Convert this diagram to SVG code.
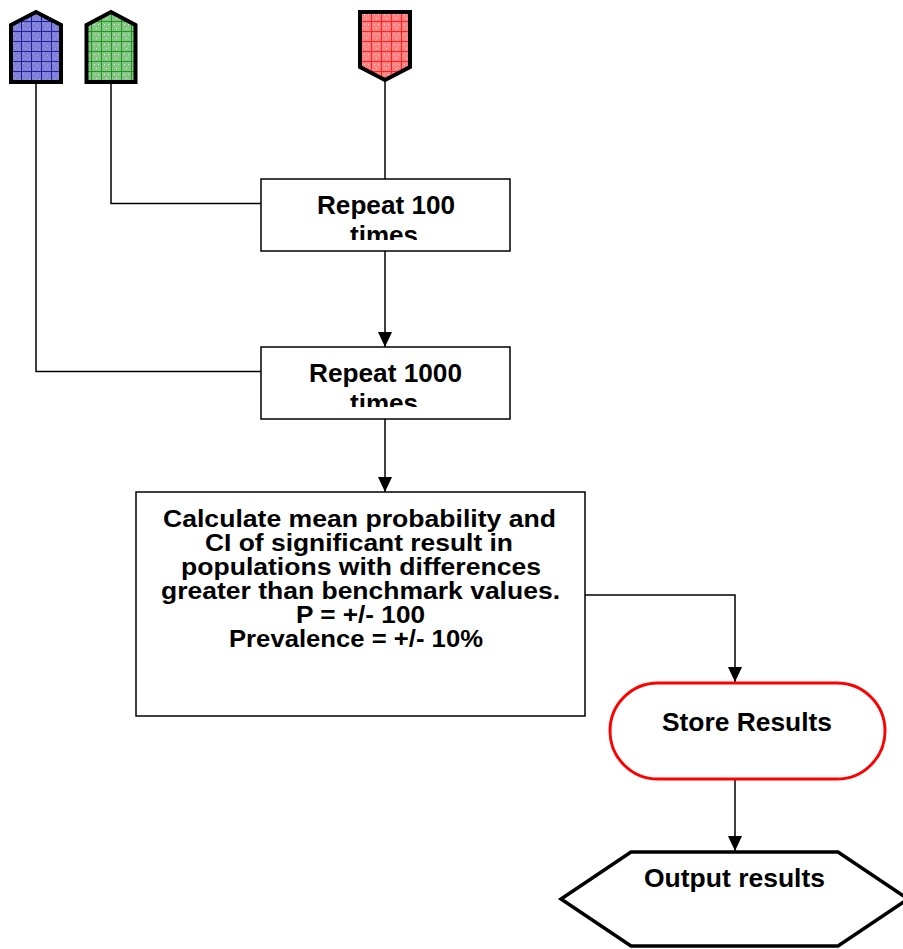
<svg xmlns="http://www.w3.org/2000/svg" width="903" height="949" viewBox="0 0 903 949">
  <style>
    .lbl { font-family: "Liberation Sans", Arial, sans-serif; font-weight: bold; fill: #000; }
    .box { fill: #fff; stroke: #000; stroke-width: 1.5; }
    .wire { fill: none; stroke: #000; stroke-width: 1.5; }
    .tag { stroke: #000; stroke-width: 4; stroke-linejoin: miter; }
  </style>
  <defs>
    <marker id="arrow" markerUnits="userSpaceOnUse" markerWidth="15" markerHeight="14" refX="15" refY="7" orient="auto">
      <path d="M0,0 L15,7 L0,14 Z" fill="#000"/>
    </marker>
    <pattern id="gridBlue" patternUnits="userSpaceOnUse" x="1" y="1" width="10" height="10">
      <rect width="10" height="10" fill="#8080d8"/>
      <path d="M2,2h1v1h-1zM6,4h1v1h-1zM4,7h1v1h-1zM8,8h1v1h-1z" fill="#a8a8f0"/>
      <path d="M0.5,0V10M0,0.5H10" stroke="#20209a" stroke-width="1"/>
    </pattern>
    <pattern id="gridGreen" patternUnits="userSpaceOnUse" x="1" y="1" width="10" height="10">
      <rect width="10" height="10" fill="#84c684"/>
      <path d="M3,3h1v1h-1zM7,3h1v1h-1zM5,7h1v1h-1z" fill="#e6f6e6"/>
      <path d="M0.5,0V10M0,0.5H10" stroke="#1f961f" stroke-width="1"/>
    </pattern>
    <pattern id="gridRed" patternUnits="userSpaceOnUse" x="1" y="1" width="10" height="10">
      <rect width="10" height="10" fill="#ff8080"/>
      <path d="M3,3h1v1h-1zM7,3h1v1h-1zM5,7h1v1h-1z" fill="#ffe0e0"/>
      <path d="M0.5,0V10M0,0.5H10" stroke="#ff2020" stroke-width="1"/>
    </pattern>
    <clipPath id="clipRepeat100">
      <rect x="261" y="179" width="249" height="61"/>
    </clipPath>
    <clipPath id="clipRepeat1000">
      <rect x="261" y="347" width="249" height="60"/>
    </clipPath>
  </defs>

  <rect width="903" height="949" fill="#fff"/>

  <!-- connectors -->
  <g id="connectors">
    <path class="wire" d="M385,80 V179"/>
    <path class="wire" d="M385,251 V347" marker-end="url(#arrow)"/>
    <path class="wire" d="M111,84 V203.5 H261"/>
    <path class="wire" d="M36,84 V371.5 H261"/>
    <path class="wire" d="M385,419 V492" marker-end="url(#arrow)"/>
    <path class="wire" d="M585,595 H735 V682" marker-end="url(#arrow)"/>
    <path class="wire" d="M735,780 V851" marker-end="url(#arrow)"/>
  </g>

  <!-- off-page tags -->
  <g id="tagBlue">
    <path class="tag" fill="url(#gridBlue)" d="M11,25 L36,12 L61,25 L61,82 L11,82 Z"/>
  </g>
  <g id="tagGreen">
    <path class="tag" fill="url(#gridGreen)" d="M86.5,25 L111,12 L135.5,25 L135.5,82 L86.5,82 Z"/>
  </g>
  <g id="tagRed">
    <path class="tag" fill="url(#gridRed)" d="M360,12 L410,12 L410,67 L385,80 L360,67 Z"/>
  </g>

  <!-- loop boxes -->
  <g id="repeat100">
    <rect class="box" x="261" y="179" width="249" height="72"/>
    <g clip-path="url(#clipRepeat100)">
      <text class="lbl" font-size="25" x="317" y="213.5" textLength="138" lengthAdjust="spacingAndGlyphs">Repeat 100</text>
      <text class="lbl" font-size="25" x="350" y="244" textLength="68" lengthAdjust="spacingAndGlyphs">times</text>
    </g>
  </g>
  <g id="repeat1000">
    <rect class="box" x="261" y="347" width="249" height="72"/>
    <g clip-path="url(#clipRepeat1000)">
      <text class="lbl" font-size="25" x="309" y="382" textLength="153" lengthAdjust="spacingAndGlyphs">Repeat 1000</text>
      <text class="lbl" font-size="25" x="350" y="412" textLength="68" lengthAdjust="spacingAndGlyphs">times</text>
    </g>
  </g>

  <!-- calculation step -->
  <g id="calculate">
    <rect class="box" x="136" y="492" width="449" height="224"/>
    <g class="lbl" font-size="23">
      <text x="163" y="527" textLength="393" lengthAdjust="spacingAndGlyphs">Calculate mean probability and</text>
      <text x="205" y="551" textLength="308" lengthAdjust="spacingAndGlyphs">CI of significant result in</text>
      <text x="181" y="575" textLength="360" lengthAdjust="spacingAndGlyphs">populations with differences</text>
      <text x="161" y="599" textLength="399" lengthAdjust="spacingAndGlyphs">greater than benchmark values.</text>
      <text x="296" y="623" textLength="129" lengthAdjust="spacingAndGlyphs">P = +/- 100</text>
      <text x="229" y="647" textLength="254" lengthAdjust="spacingAndGlyphs">Prevalence = +/- 10%</text>
    </g>
  </g>

  <!-- storage terminator -->
  <g id="storeResults">
    <rect x="610" y="683" width="275" height="96" rx="48" ry="48" fill="#fff" stroke="#ff0000" stroke-width="3"/>
    <text class="lbl" font-size="25" x="662" y="731" textLength="170" lengthAdjust="spacingAndGlyphs">Store Results</text>
  </g>

  <!-- output display -->
  <g id="outputResults">
    <path d="M631,852 L838,852 L908,899 L838,946 L631,946 L561,899 Z" fill="#fff" stroke="#000" stroke-width="3.5"/>
    <text class="lbl" font-size="25" x="644" y="887" textLength="181" lengthAdjust="spacingAndGlyphs">Output results</text>
  </g>
</svg>
